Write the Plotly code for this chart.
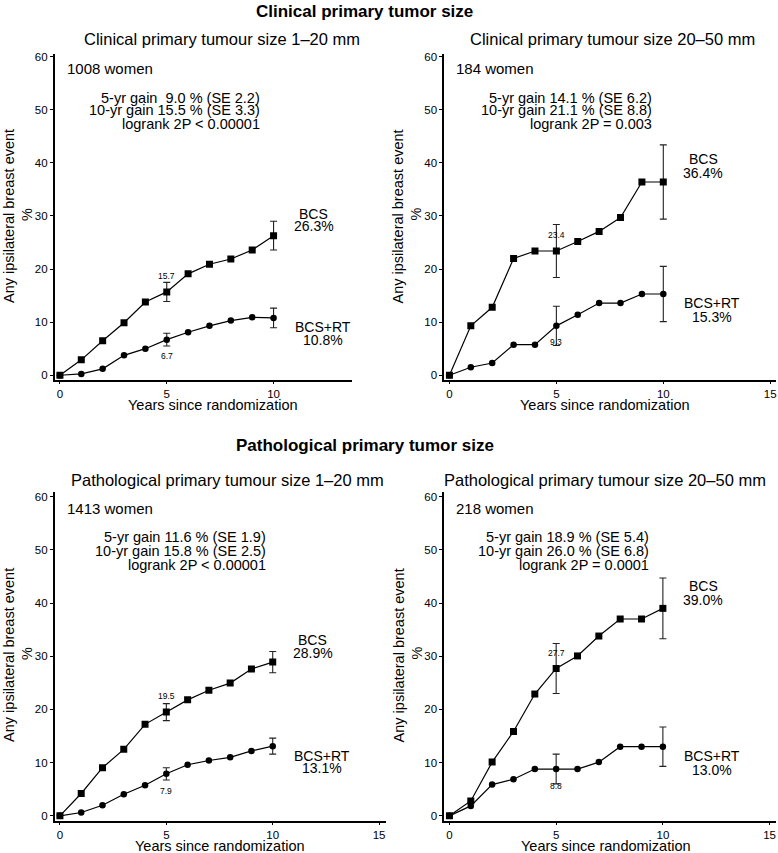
import plotly.graph_objects as go

W, H = 778, 853
FONT = "Liberation Sans, Arial, Helvetica, sans-serif"

years = list(range(11))

# ---- data (cumulative % any ipsilateral breast event) ----
cl_small_bcs = [0, 2.9, 6.5, 9.9, 13.8, 15.7, 19.1, 20.9, 21.9, 23.6, 26.3]
cl_small_rt = [0, 0.25, 1.2, 3.75, 5.0, 6.7, 8.1, 9.3, 10.3, 10.9, 10.8]
cl_small_bcs_se = [1.8, 2.7]   # error bars at years 5 and 10
cl_small_rt_se = [1.2, 1.85]

cl_large_bcs = [0, 9.3, 12.8, 22.0, 23.4, 23.4, 25.2, 27.1, 29.7, 36.4, 36.4]
cl_large_rt = [0, 1.5, 2.3, 5.75, 5.75, 9.3, 11.4, 13.6, 13.6, 15.3, 15.3]
cl_large_bcs_se = [5.0, 7.0]
cl_large_rt_se = [3.7, 5.2]

pa_small_bcs = [0, 4.2, 9.05, 12.5, 17.2, 19.5, 21.8, 23.6, 24.95, 27.6, 28.9]
pa_small_rt = [0, 0.63, 2.0, 4.06, 5.74, 7.9, 9.6, 10.4, 11.0, 12.2, 13.1]
pa_small_bcs_se = [1.6, 2.0]
pa_small_rt_se = [1.15, 1.5]

pa_large_bcs = [0, 2.8, 10.1, 15.85, 22.9, 27.7, 30.06, 33.8, 37.0, 37.0, 39.0]
pa_large_rt = [0, 1.87, 5.87, 6.87, 8.8, 8.8, 8.8, 10.1, 13.0, 13.0, 13.0]
pa_large_bcs_se = [4.7, 5.7]
pa_large_rt_se = [2.8, 3.7]

err_years = [5, 10]

titles = ["Clinical primary tumour size 1\u201320 mm",
          "Clinical primary tumour size 20\u201350 mm",
          "Pathological primary tumour size 1\u201320 mm",
          "Pathological primary tumour size 20\u201350 mm"]
women = ["1008 women", "184 women", "1413 women", "218 women"]
gain_lines = [
    ["5-yr gain\u00a0\u00a09.0 % (SE 2.2)", "10-yr gain 15.5 % (SE 3.3)", "logrank 2P < 0.00001"],
    ["5-yr gain 14.1 % (SE 6.2)", "10-yr gain 21.1 % (SE 8.8)", "logrank 2P = 0.003"],
    ["5-yr gain 11.6 % (SE 1.9)", "10-yr gain 15.8 % (SE 2.5)", "logrank 2P < 0.00001"],
    ["5-yr gain 18.9 % (SE 5.4)", "10-yr gain 26.0 % (SE 6.8)", "logrank 2P = 0.0001"],
]
section_titles = ["Clinical primary tumor size", "Pathological primary tumor size"]
yticks = [0, 10, 20, 30, 40, 50, 60]

panels = [
    dict(bcs=cl_small_bcs, rt=cl_small_rt, bse=cl_small_bcs_se, rse=cl_small_rt_se,
         xdom=(55, 352), ydom=(50.8, 379), xr=(-0.234, 13.65), yr=(-0.94, 60.6),
         xt=[0, 5, 10], gx=9.44, gy=[52.3, 49.9, 47.25], wy=57.75,
         bcs_lab=(11.88, 30.4, 28.1), rt_lab=(12.3, 9.0, 6.56), l5=(18.7, 3.7),
         title_xy=(222, 36), xlab=(213, 403.5), ylab_y=214),
    dict(bcs=cl_large_bcs, rt=cl_large_rt, bse=cl_large_bcs_se, rse=cl_large_rt_se,
         xdom=(445, 777), ydom=(50.8, 379), xr=(-0.234, 15.27), yr=(-0.94, 60.6),
         xt=[0, 5, 10, 15], gx=9.58, gy=[52.3, 49.9, 47.25], wy=57.75,
         bcs_lab=(11.88, 40.7, 38.1), rt_lab=(12.3, 13.55, 10.9), l5=(26.4, 6.2),
         title_xy=(613, 36), xlab=(606, 403.5), ylab_y=214),
    dict(bcs=pa_small_bcs, rt=pa_small_rt, bse=pa_small_bcs_se, rse=pa_small_rt_se,
         xdom=(55, 386), ydom=(491.7, 821.7), xr=(-0.235, 15.3), yr=(-0.94, 60.8),
         xt=[0, 5, 10, 15], gx=9.77, gy=[52.4, 49.8, 47.1], wy=57.8,
         bcs_lab=(11.88, 33.1, 30.6), rt_lab=(12.3, 11.2, 8.9), l5=(22.6, 4.7),
         title_xy=(228, 479), xlab=(220, 846.5), ylab_y=655),
    dict(bcs=pa_large_bcs, rt=pa_large_rt, bse=pa_large_bcs_se, rse=pa_large_rt_se,
         xdom=(445, 777), ydom=(491.7, 821.7), xr=(-0.235, 15.3), yr=(-0.94, 60.8),
         xt=[0, 5, 10, 15], gx=9.45, gy=[52.4, 49.8, 47.1], wy=57.8,
         bcs_lab=(11.88, 43.2, 40.5), rt_lab=(12.3, 11.2, 8.7), l5=(30.7, 5.7),
         title_xy=(606, 479), xlab=(607, 846.5), ylab_y=655),
]


def pxx(x):
    return x / W


def pxy(y):
    return 1 - y / H


fig = go.Figure()
annotations = []
layout_axes = {}

for i, p in enumerate(panels):
    n = i + 1
    xa = "x" if n == 1 else f"x{n}"
    ya = "y" if n == 1 else f"y{n}"
    xkey = "xaxis" if n == 1 else f"xaxis{n}"
    ykey = "yaxis" if n == 1 else f"yaxis{n}"

    common = dict(showline=True, linecolor="black", linewidth=2, ticks="outside",
                  tickwidth=1, tickcolor="black", showgrid=False,
                  zeroline=False, tickfont=dict(family=FONT, size=11.5, color="black"),
                  fixedrange=True)
    layout_axes[xkey] = dict(common, domain=[pxx(p["xdom"][0]), pxx(p["xdom"][1])],
                             range=list(p["xr"]), tickvals=p["xt"], anchor=ya, ticklen=2)
    layout_axes[ykey] = dict(common, domain=[pxy(p["ydom"][1]), pxy(p["ydom"][0])],
                             range=list(p["yr"]), tickvals=yticks, anchor=xa, ticklen=3)

    # error bar traces (years 5 and 10 only)
    for series, se in ((p["bcs"], p["bse"]), (p["rt"], p["rse"])):
        fig.add_trace(go.Scatter(
            x=err_years, y=[series[k] for k in err_years], mode="markers",
            marker=dict(size=1, color="rgba(0,0,0,0)"),
            error_y=dict(type="data", array=se, symmetric=True, color="#222",
                         thickness=1.1, width=3.5),
            xaxis=xa, yaxis=ya, showlegend=False, hoverinfo="skip"))

    fig.add_trace(go.Scatter(
        x=years, y=p["bcs"], mode="lines+markers",
        line=dict(color="black", width=1.2),
        marker=dict(symbol="square", size=7, color="black"),
        xaxis=xa, yaxis=ya, showlegend=False, name="BCS"))
    fig.add_trace(go.Scatter(
        x=years, y=p["rt"], mode="lines+markers",
        line=dict(color="black", width=1.2),
        marker=dict(symbol="circle", size=6.5, color="black"),
        xaxis=xa, yaxis=ya, showlegend=False, name="BCS+RT"))

    # texts
    def dann(x, y, text, size, xanchor="center"):
        annotations.append(dict(x=x, y=y, xref=xa, yref=ya, text=text, showarrow=False,
                                xanchor=xanchor, yanchor="middle",
                                font=dict(family=FONT, size=size, color="black")))

    dann(0.23, p["wy"], women[i], 15, "left")
    for line, gy in zip(gain_lines[i], p["gy"]):
        dann(p["gx"], gy, line, 14.5, "right")
    bx, by1, by2 = p["bcs_lab"]
    dann(bx, by1, "BCS", 14)
    dann(bx, by2, f"{p['bcs'][10]:.1f}%", 14)
    rx, ry1, ry2 = p["rt_lab"]
    dann(rx, ry1, "BCS+RT", 14)
    dann(rx, ry2, f"{p['rt'][10]:.1f}%", 14)
    dann(5, p["l5"][0], f"{p['bcs'][5]:.1f}", 8.5)
    dann(5, p["l5"][1], f"{p['rt'][5]:.1f}", 8.5)

    # subplot title
    annotations.append(dict(x=pxx(p["title_xy"][0]), y=pxy(p["title_xy"][1]), xref="paper",
                            yref="paper", text=titles[i], showarrow=False,
                            xanchor="center", yanchor="middle",
                            font=dict(family=FONT, size=16.5, color="black")))
    # x axis title
    annotations.append(dict(x=pxx(p["xlab"][0]), y=pxy(p["xlab"][1]), xref="paper",
                            yref="paper", text="Years since randomization", showarrow=False,
                            xanchor="center", yanchor="middle",
                            font=dict(family=FONT, size=14.5, color="black")))
    # y axis title (two lines)
    ox = 0 if i % 2 == 0 else 390
    annotations.append(dict(x=pxx(ox + 9), y=pxy(p["ylab_y"]), xref="paper", yref="paper",
                            text="Any ipsilateral breast event", showarrow=False,
                            textangle=-90, xanchor="center", yanchor="middle",
                            font=dict(family=FONT, size=14.5, color="black")))
    annotations.append(dict(x=pxx(ox + 27), y=pxy(p["ylab_y"] - 2), xref="paper", yref="paper",
                            text="%", showarrow=False,
                            textangle=-90, xanchor="center", yanchor="middle",
                            font=dict(family=FONT, size=14.5, color="black")))

for txt, yy in zip(section_titles, [9, 445]):
    annotations.append(dict(x=pxx(365), y=pxy(yy), xref="paper", yref="paper",
                            text=f"<b>{txt}</b>", showarrow=False,
                            xanchor="center", yanchor="middle",
                            font=dict(family=FONT, size=17, color="black")))

fig.update_layout(width=W, height=H, margin=dict(l=0, r=0, t=0, b=0),
                  paper_bgcolor="white", plot_bgcolor="white",
                  annotations=annotations, **layout_axes)

fig.write_html("out.html", config={"displayModeBar": False},
               post_script="document.body.style.margin='0';document.body.style.overflow='hidden';")
